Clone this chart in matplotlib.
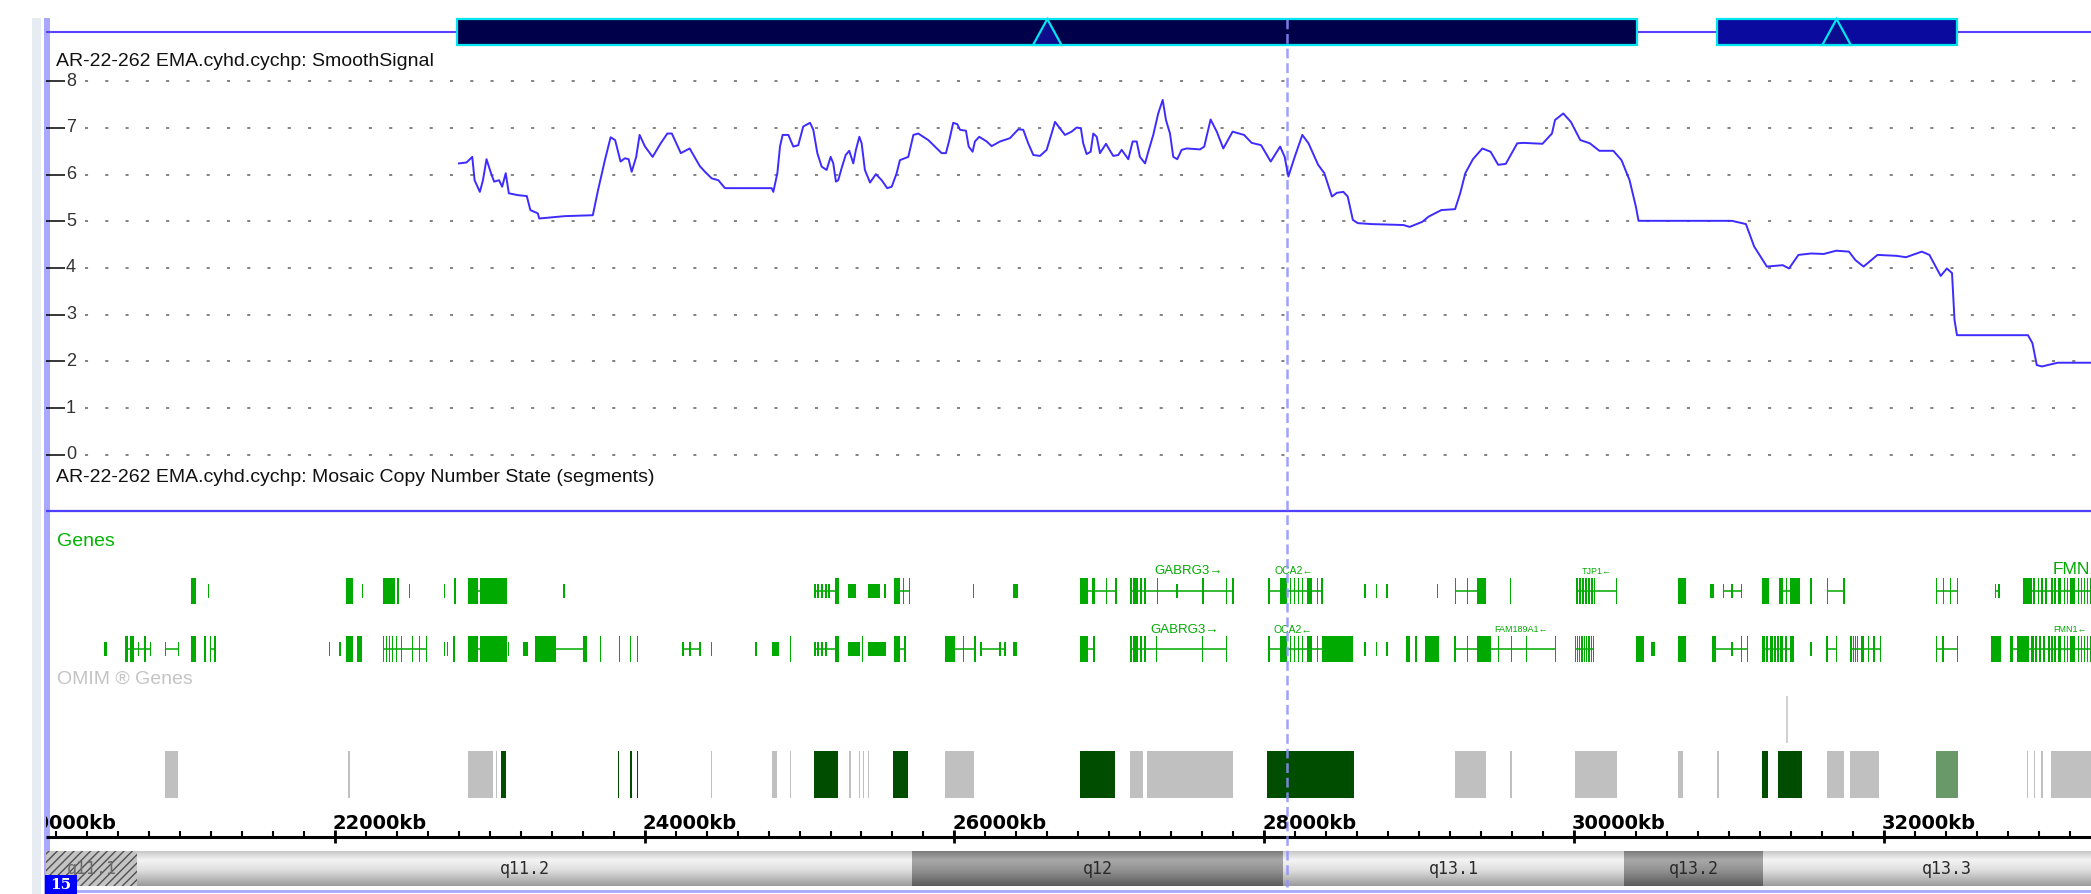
import numpy as np
import matplotlib
matplotlib.use("Agg")
import matplotlib.pyplot as plt
import matplotlib.transforms as mtransforms
from matplotlib.patches import Rectangle, Polygon
from matplotlib.colors import LinearSegmentedColormap

plt.rcParams['font.family'] = ['Liberation Sans', 'DejaVu Sans']
plt.rcParams['lines.scale_dashes'] = False
plt.rcParams['hatch.color'] = '#505050'
plt.rcParams['hatch.linewidth'] = 1.0

# ---- data (positions in kb along chr15) ----
KB_LEFT, KB_RIGHT = 20137, 33335

sig_kb = [22802, 22851, 22888, 22903, 22937, 22957, 22980, 23009, 23029, 23061, 23081, 23104, 23124, 23182,
          23240, 23263, 23311, 23320, 23484, 23666, 23700, 23744, 23781, 23810, 23845, 23873, 23897, 23917,
          23946, 23968, 24003, 24052, 24104, 24147, 24176, 24234, 24291, 24357, 24390, 24433, 24476, 24519,
          24820, 24831, 24857, 24874, 24891, 24928, 24960, 24992, 25024, 25068, 25089, 25115, 25143, 25175,
          25201, 25218, 25235, 25250, 25272, 25298, 25321, 25347, 25364, 25386, 25401, 25422, 25455, 25493,
          25530, 25566, 25595, 25627, 25648, 25702, 25735, 25766, 25831, 25917, 25945, 25967, 25992, 26018,
          26036, 26074, 26092, 26117, 26132, 26160, 26208, 26240, 26294, 26358, 26412, 26444, 26476, 26509,
          26552, 26595, 26627, 26649, 26681, 26713, 26756, 26789, 26816, 26831, 26853, 26879, 26896, 26918,
          26939, 26978, 27008, 27025, 27057, 27079, 27122, 27150, 27176, 27197, 27230, 27251, 27283, 27315,
          27344, 27365, 27391, 27412, 27438, 27466, 27499, 27585, 27612, 27653, 27693, 27735, 27795, 27869,
          27918, 27979, 28041, 28102, 28131, 28155, 28196, 28245, 28285, 28347, 28387, 28436, 28468, 28510,
          28538, 28571, 28603, 28693, 28897, 28938, 29020, 29060, 29142, 29231, 29264, 29297, 29346, 29407,
          29460, 29509, 29558, 29632, 29672, 29795, 29856, 29876, 29929, 29978, 30039, 30101, 30162, 30252,
          30305, 30357, 30398, 30415, 31018, 31108, 31161, 31243, 31345, 31386, 31447, 31528, 31610, 31691,
          31773, 31814, 31867, 31957, 32079, 32141, 32243, 32292, 32333, 32365, 32405, 32438, 32454, 32470,
          32928, 32957, 32985, 33018, 33120, 33335]
sig_val = [6.24, 6.26, 6.38, 5.88, 5.63, 5.88, 6.33, 6.03, 5.85, 5.88, 5.74, 6.03, 5.60, 5.56,
           5.54, 5.24, 5.17, 5.06, 5.11, 5.13, 5.67, 6.31, 6.80, 6.74, 6.28, 6.35, 6.33, 6.06,
           6.38, 6.85, 6.60, 6.38, 6.67, 6.88, 6.88, 6.46, 6.56, 6.18, 6.06, 5.92, 5.88, 5.71,
           5.71, 5.63, 6.03, 6.60, 6.85, 6.85, 6.60, 6.63, 7.03, 7.11, 6.96, 6.46, 6.17, 6.10,
           6.38, 6.24, 5.85, 5.88, 6.14, 6.42, 6.51, 6.24, 6.53, 6.81, 6.67, 6.10, 5.83, 6.01,
           5.88, 5.71, 5.74, 6.03, 6.31, 6.38, 6.85, 6.88, 6.74, 6.46, 6.46, 6.74, 7.11, 7.08,
           6.96, 6.94, 6.60, 6.49, 6.71, 6.81, 6.71, 6.61, 6.71, 6.78, 6.97, 6.96, 6.67, 6.42,
           6.40, 6.53, 6.88, 7.13, 6.99, 6.85, 6.92, 7.01, 6.99, 6.67, 6.44, 6.49, 6.88, 6.81,
           6.46, 6.66, 6.49, 6.40, 6.42, 6.53, 6.33, 6.71, 6.71, 6.38, 6.24, 6.49, 6.85, 7.31,
           7.60, 7.17, 6.88, 6.38, 6.33, 6.53, 6.56, 6.54, 6.60, 7.18, 6.92, 6.56, 6.92, 6.85,
           6.68, 6.63, 6.28, 6.60, 6.38, 5.96, 6.38, 6.85, 6.67, 6.21, 6.03, 5.53, 5.61, 5.63,
           5.53, 5.03, 4.96, 4.94, 4.92, 4.88, 4.99, 5.10, 5.24, 5.26, 5.60, 6.03, 6.33, 6.56,
           6.49, 6.21, 6.23, 6.67, 6.68, 6.66, 6.88, 7.17, 7.31, 7.13, 6.74, 6.67, 6.51, 6.51,
           6.31, 5.88, 5.31, 5.01, 5.01, 4.94, 4.46, 4.03, 4.06, 3.99, 4.28, 4.31, 4.30, 4.37,
           4.35, 4.17, 4.03, 4.28, 4.26, 4.23, 4.35, 4.28, 4.03, 3.83, 3.99, 3.89, 2.89, 2.56,
           2.56, 2.39, 1.92, 1.89, 1.97, 1.97]

# mosaic CN segments (top track) and their markers
seg_start = [22789, 30919]
seg_end = [30405, 32468]
seg_color = ['#00004a', '#0a0a9e']
seg_mark = [26599, 31693]

# gene models, two rows
row1_exons = [(21074, 21103), (22073, 22116), (22312, 22389), (22402, 22412), (22770, 22783), (22860, 22925),
              (22935, 23110), (25229, 25257), (25610, 25648), (25668, 25677), (25706, 25716),
              (26810, 26864), (26885, 26907), (26978, 26987), (27039, 27049),
              (27133, 27143), (27150, 27185), (27200, 27210), (27225, 27235), (27305, 27315), (27600, 27610),
              (27750, 27760), (27790, 27802),
              (28026, 28034), (28104, 28144), (28165, 28173), (28190, 28198), (28215, 28223), (28240, 28248),
              (28273, 28310), (28338, 28346), (28368, 28376),
              (29229, 29236), (29306, 29313), (29372, 29433), (29587, 29595),
              (30014, 30024), (30030, 30045), (30050, 30060), (30068, 30080), (30090, 30100), (30110, 30120),
              (30127, 30137), (30268, 30278), (30669, 30718),
              (31214, 31255), (31324, 31345), (31366, 31374), (31390, 31459), (31524, 31532), (31631, 31639),
              (31737, 31745), (32332, 32340), (32378, 32386), (32426, 32434), (32471, 32479),
              (32894, 32952), (32961, 32975), (32990, 33000), (33015, 33025), (33040, 33050), (33078, 33088),
              (33098, 33106), (33120, 33140), (33158, 33166), (33178, 33186), (33200, 33230), (33248, 33256),
              (33268, 33276), (33290, 33298), (33310, 33318), (33328, 33335)]
row1_short = [(21180, 21189), (22176, 22186), (22480, 22489), (22705, 22715), (23473, 23486),
              (25094, 25104), (25113, 25123), (25139, 25149), (25165, 25175), (25187, 25197),
              (25311, 25364), (25440, 25519), (25548, 25557), (26119, 26129), (26380, 26412),
              (27430, 27440), (28643, 28653), (28718, 28728), (28787, 28797), (29113, 29123),
              (30876, 30904), (30957, 30967), (31014, 31022), (31074, 31084), (32715, 32722), (32738, 32745)]
row1_lines = [(22860, 23110), (25094, 25257), (25610, 25716), (26810, 27049), (27133, 27802), (28026, 28372),
              (29229, 29433), (30014, 30278), (30957, 31079), (31324, 31459), (31631, 31745), (32332, 32479),
              (32715, 32745), (32894, 33335)]

row2_exons = [(20647, 20666), (20676, 20705), (20772, 20780), (21074, 21103), (21154, 21171), (21194, 21205),
              (21222, 21232), (22073, 22116), (22144, 22179),
              (22312, 22318), (22330, 22336), (22350, 22356), (22373, 22379), (22396, 22402), (22430, 22436),
              (22464, 22470), (22502, 22508), (22545, 22551), (22588, 22594),
              (22763, 22779), (22860, 22925), (22935, 23110), (23291, 23427), (23600, 23628), (23712, 23718),
              (23833, 23839), (23908, 23914), (23951, 23957), (24938, 24948), (25229, 25257), (25403, 25412),
              (25610, 25648), (25677, 25685), (25939, 26003), (26053, 26061), (26128, 26136),
              (26810, 26864), (26896, 26904),
              (27133, 27143), (27150, 27185), (27200, 27210), (27225, 27235), (27301, 27309), (27596, 27604),
              (27751, 27759),
              (28026, 28034), (28104, 28144), (28165, 28173), (28190, 28198), (28215, 28223), (28240, 28248),
              (28273, 28310), (28338, 28346), (28372, 28569),
              (28914, 28940), (28975, 28983), (29039, 29125),
              (29227, 29235), (29306, 29314), (29372, 29464), (29509, 29517), (29590, 29598), (29689, 29697),
              (29874, 29882),
              (30002, 30010), (30016, 30024), (30031, 30039), (30046, 30054), (30061, 30069), (30076, 30084),
              (30091, 30099), (30106, 30114), (30121, 30129),
              (30397, 30447), (30669, 30718), (30889, 30915), (31075, 31083), (31116, 31124),
              (31214, 31230), (31240, 31250), (31262, 31280), (31290, 31300), (31310, 31320), (31330, 31345),
              (31360, 31370), (31390, 31418), (31627, 31635), (31687, 31695),
              (31782, 31790), (31796, 31804), (31811, 31819), (31826, 31834), (31850, 31870), (31896, 31904),
              (31931, 31939), (31971, 31979), (32332, 32340), (32376, 32384), (32471, 32479),
              (32689, 32752), (32812, 32830), (32860, 32900), (32905, 32935), (32950, 32965), (32975, 32985),
              (33000, 33010), (33025, 33040), (33060, 33070), (33078, 33088), (33098, 33106), (33120, 33140),
              (33158, 33166), (33178, 33186), (33200, 33230), (33248, 33256), (33268, 33276), (33290, 33298),
              (33310, 33318), (33328, 33335)]
row2_short = [(20513, 20533), (20729, 20737), (20807, 20815), (20902, 20910), (20989, 20997), (21962, 21970),
              (22031, 22039), (22703, 22711), (22726, 22734), (23120, 23128), (23217, 23246), (24244, 24252),
              (24289, 24297), (24354, 24362), (24429, 24437), (24715, 24723), (24820, 24869),
              (25094, 25104), (25113, 25123), (25139, 25149), (25165, 25175), (25311, 25390), (25440, 25558),
              (26167, 26175), (26290, 26298), (26322, 26330), (26380, 26402), (28643, 28653), (28718, 28728),
              (28787, 28797), (30495, 30522), (31014, 31022), (31524, 31532)]
row2_lines = [(20647, 20811), (20906, 20993), (21194, 21232), (22312, 22591), (22860, 23110), (23291, 23628),
              (24248, 24358), (25094, 25257), (25610, 25681), (25939, 26132), (26171, 26326), (26810, 26900),
              (27133, 27755), (28026, 28569), (29231, 29878), (30006, 30125), (30889, 31120), (31214, 31418),
              (31631, 31691), (31786, 31975), (32332, 32479), (32812, 33335)]

gene_names = ['GABRG3→', 'OCA2←', 'TJP1←', 'FMN1←', 'GABRG3→', 'OCA2←', 'FAM189A1←', 'FMN1←']
gene_pos = [27510, 28188, 30147, 33089, 27486, 28185, 29659, 33089]
gene_row = [1, 1, 1, 1, 2, 2, 2, 2]
gene_fs = [9.5, 7.5, 6.5, 12.5, 9.5, 7.5, 6.5, 6.5]

# OMIM genes
omim_start = [20906, 22087, 22860, 23040, 23073, 23826, 23907, 23950, 24428, 24820, 24938, 25094, 25321, 25381,
              25407, 25439, 25605, 25939, 26810, 27134, 27245, 28020, 29231, 29586, 30006, 30672, 30924, 31210,
              31312, 31631, 31781, 32332, 32919, 32964, 33013, 33078]
omim_end = [20987, 22101, 23024, 23050, 23104, 23836, 23917, 23960, 24438, 24856, 24948, 25250, 25331, 25391,
            25417, 25449, 25702, 26128, 27036, 27216, 27795, 28579, 29428, 29596, 30276, 30700, 30934, 31251,
            31467, 31740, 31965, 32479, 32929, 32974, 33023, 33335]
omim_kind = ['g', 'g', 'g', 'g', 'd', 'd', 'd', 'd', 'g', 'g', 'g', 'd', 'g', 'g',
             'g', 'g', 'd', 'g', 'd', 'g', 'g', 'd', 'g', 'g', 'g', 'g', 'g', 'd',
             'd', 'g', 'g', 'm', 'g', 'g', 'g', 'g']

# cytobands
band_name = ['q11.1', 'q11.2', 'q12', 'q13.1', 'q13.2', 'q13.3']
band_start = [19900, 20724, 25727, 28122, 30324, 31215]
band_end = [20724, 25727, 28122, 30324, 31215, 33600]
band_stain = ['acen', 'light', 'dark', 'light', 'dark', 'light']

cursor_kb = 28146

# ---- drawing ----
W, H = 2091, 894
fig = plt.figure(figsize=(W / 100, H / 100), dpi=100)
fig.patch.set_facecolor('white')

bg = fig.add_axes([0, 0, 1, 1])
bg.set_xlim(0, W)
bg.set_ylim(H, 0)
bg.axis('off')
bg.add_patch(Rectangle((32, 18), 9, H - 18, color='#e6ecf2', lw=0))
bg.add_patch(Rectangle((44, 18), 6, H - 18, color='#a8a8ff', lw=0))
bg.hlines(891, 47, W, color='#a8a8ff', lw=2)
bg.text(56, 62, 'AR-22-262 EMA.cyhd.cychp: SmoothSignal', fontsize=14, va='center', color='#111111')
bg.text(56, 477, 'AR-22-262 EMA.cyhd.cychp: Mosaic Copy Number State (segments)', fontsize=14,
        va='center', color='#111111')
bg.text(57, 541, 'Genes', fontsize=14, va='center', color='#00b400')
bg.text(57, 679, 'OMIM ® Genes', fontsize=14, va='center', color='#c4c4c4')

# track axes: x in kb, y in pixels from top
tr = fig.add_axes([46 / W, 0, (W - 46) / W, 1])
tr.axis('off')

tr.hlines(32, KB_LEFT, KB_RIGHT, color='#5a40ff', lw=1.5, zorder=1)
for s, e, c in zip(seg_start, seg_end, seg_color):
    tr.add_patch(Rectangle((s, 19), e - s, 26, facecolor=c, edgecolor='#00e5f0', lw=1.6, zorder=2))
for m in seg_mark:
    tr.add_patch(Polygon([(m - 92, 45), (m, 19), (m + 92, 45)], closed=True, facecolor='#0c0c8c',
                         edgecolor='#00e5f0', lw=1.6, zorder=3))

tr.hlines(511, KB_LEFT, KB_RIGHT, color='#4f3fff', lw=1.6)

green = '#00aa00'
for yc, ex, sh, ln in [(591, row1_exons, row1_short, row1_lines), (649, row2_exons, row2_short, row2_lines)]:
    ln = np.array(ln)
    tr.hlines(np.full(len(ln), yc), ln[:, 0], ln[:, 1], color=green, lw=1.1)
    ex = np.array(ex)
    tr.bar(ex[:, 0], 26, width=ex[:, 1] - ex[:, 0], bottom=yc - 13, align='edge', color=green, lw=0)
    sh = np.array(sh)
    tr.bar(sh[:, 0], 14, width=sh[:, 1] - sh[:, 0], bottom=yc - 7, align='edge', color=green, lw=0)

for name, pos, r, fs in zip(gene_names, gene_pos, gene_row, gene_fs):
    y = 571 if r == 1 else 630
    if name.startswith('FMN'):
        tr.text(pos, y - (2 if r == 1 else 0), name, fontsize=fs, color=green, ha='left', va='center',
                clip_on=True)
    else:
        tr.text(pos, y, name, fontsize=fs, color=green, ha='center', va='center')

omim_colors = {'g': '#c0c0c0', 'd': '#004d00', 'm': '#699869'}
ost = np.array(omim_start)
oen = np.array(omim_end)
tr.bar(ost, 47, width=oen - ost, bottom=751, align='edge', lw=0,
       color=[omim_colors[k] for k in omim_kind])
tr.vlines(31374, 696, 743, color='#c8c8c8', lw=1.2)

# kb ruler
tr.hlines(837, KB_LEFT, KB_RIGHT, color='black', lw=2.2)
minor = np.arange(20200, 33400, 200)
tr.vlines(minor, 831, 837, color='black', lw=1.5)
major = np.arange(20000, 34000, 2000)
tr.vlines(major, 830, 843, color='black', lw=2)
for m in major:
    tr.text(m - 15, 829, f'{m}kb', fontsize=14, fontweight='bold', family='DejaVu Sans',
            ha='left', va='baseline', clip_on=True)

# ideogram
light_cm = LinearSegmentedColormap.from_list('lt', [(0, '#c8c8c8'), (0.25, '#f4f4f4'), (0.55, '#dedede'),
                                                    (1, '#9c9c9c')])
dark_cm = LinearSegmentedColormap.from_list('dk', [(0, '#7c7c7c'), (0.25, '#a8a8a8'), (0.55, '#929292'),
                                                   (1, '#5c5c5c')])
grad = np.linspace(0, 1, 60).reshape(-1, 1)
for name, s, e, st in zip(band_name, band_start, band_end, band_stain):
    if st == 'acen':
        tr.add_patch(Rectangle((s, 851), e - s, 35, facecolor='#c4c4c4', edgecolor='#505050',
                               hatch='////', lw=0))
        col = '#6a6a6a'
    else:
        tr.imshow(grad, extent=(s, e, 886, 851), aspect='auto', cmap=light_cm if st == 'light' else dark_cm,
                  vmin=0, vmax=1, interpolation='bilinear')
        col = '#2a2a2a'
    cx = (max(s, KB_LEFT) + e) / 2
    tr.text(cx, 869, name, fontsize=12, family='DejaVu Sans Mono', color=col, ha='center', va='center')

tr.vlines(cursor_kb, 19, 887, color='#9090ff', lw=1.8, linestyles=(0, (7, 3.5)), alpha=0.85, zorder=6)
tr.set_xlim(KB_LEFT, KB_RIGHT)
tr.set_ylim(H, 0)

# smooth signal axes
y_lo, y_hi = -0.328, 8.348
sg = fig.add_axes([46 / W, 1 - 470 / H, (W - 46) / W, 405 / H])
sg.patch.set_visible(False)
for sp in sg.spines.values():
    sp.set_visible(False)
sg.set_xlim(KB_LEFT, KB_RIGHT)
sg.set_ylim(y_lo, y_hi)
sg.set_xticks([])
sg.set_yticks(range(9))
sg.tick_params(axis='y', direction='in', length=13.7, width=1.1, color='black', labelleft=False)
sg.hlines(range(9), 20388, KB_RIGHT, colors='#606060', lw=1.1, linestyles=(0, (2.2, 12.4)))
tt = mtransforms.blended_transform_factory(sg.transAxes, sg.transData)
for v in range(9):
    sg.text(20 / (W - 46), v, str(v), transform=tt, fontsize=13, color='#333333', ha='left', va='center')
sg.plot(sig_kb, sig_val, color='#3d2bff', lw=1.4)

# chromosome badge
fg = fig.add_axes([0, 0, 1, 1])
fg.set_xlim(0, W)
fg.set_ylim(H, 0)
fg.axis('off')
fg.add_patch(Rectangle((45, 875), 32, 19, color='#0000ff', lw=0))
fg.text(61, 885, '15', fontsize=11, fontweight='bold', family='DejaVu Serif', color='white',
        ha='center', va='center')

fig.savefig('out.png', dpi=100)
